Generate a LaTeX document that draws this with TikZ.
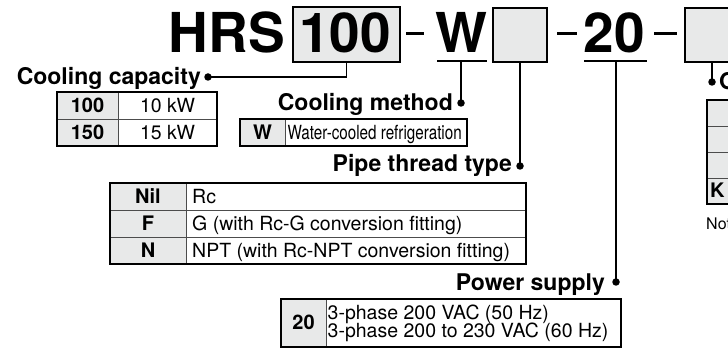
\documentclass[tikz,border=0pt]{standalone}
\usepackage{fontspec}
\setmainfont{TeX Gyre Heros}
\definecolor{cellgray}{RGB}{232,233,233}
\begin{document}
\begin{tikzpicture}[x=1pt,y=-1pt,
  big/.style={font=\fontsize{55}{60}\selectfont\bfseries, inner sep=0pt, anchor=base},
  head/.style={font=\fontsize{23}{26}\selectfont\bfseries, inner sep=0pt, anchor=base east},
  cell/.style={font=\fontsize{19.5}{18}\selectfont, inner sep=0pt, text height=14pt, text depth=0pt},
  bcell/.style={cell, font=\fontsize{20}{18}\selectfont\bfseries},
  codebox/.style={draw, line width=2pt, fill=cellgray, inner sep=0pt},
  conn/.style={line width=1.5pt},
  seldot/.style={circle, fill=black, inner sep=0pt, minimum size=7.5pt},
  outer/.style={draw=black, line width=1.3pt},
  innerline/.style={draw=black!70, line width=0.9pt},
  dashline/.style={line width=3pt},
  uline/.style={line width=2pt}]
\clip (0,0) rectangle (728,352);
\fill[white] (0,0) rectangle (728,352);

% ---- top row: model code ----
\node[big] (hrs) at (227,53) {HRS};
\node[codebox, minimum width=107pt, minimum height=55pt] (b1) at (346.5,34.5) {};
\node[big] (t100) at (345,53) {100};
\draw[dashline] (406,33.5) -- (424,33.5);
\node[big] (tw) at (461.5,53) {W};
\coordinate (wl) at (437,61); \coordinate (wr) at (487,61); \coordinate (wm) at (461,61);
\draw[uline] (wl) -- (wr);
\node[codebox, minimum width=54pt, minimum height=54pt] (b2) at (520,35) {};
\draw[dashline] (557,33.5) -- (577,33.5);
\node[big] (t20) at (614,53) {20};
\coordinate (zl) at (584,61); \coordinate (zr) at (647,61); \coordinate (zm) at (616,61);
\draw[uline] (zl) -- (zr);
\draw[dashline] (654,33.5) -- (677,33.5);
\node[codebox, minimum width=54pt, minimum height=54pt] (b3) at (712,35) {};

% ---- dots ----
\node[seldot] (dcap) at (208,77) {};
\node[seldot] (dmeth) at (461,103) {};
\node[seldot] (dpipe) at (520,166) {};
\node[seldot] (dpow) at (616,282) {};
\node[seldot] (dopt) at (712,82) {};

% ---- connectors ----
\draw[conn] (b1.south) |- (dcap.center);
\draw[conn] (wm) -- (dmeth.center);
\draw[conn] (b2.south) -- (dpipe.center);
\draw[conn] (zm) -- (dpow.center);
\draw[conn] (b3.south) -- (dopt.center);

% ---- headings ----
\node[head] (hcap) at (201,85) {Cooling capacity};
\node[head] (hmeth) at (453,111) {Cooling method};
\node[head] (hpipe) at (512,172) {Pipe thread type};
\node[head] (hpow) at (605,291) {Power supply};
\node[head, anchor=base west] (hopt) at (719,90) {Option};

% ---- table: cooling capacity ----
\fill[cellgray] (57,92) rectangle (118,146);
\draw[innerline] (118,92) -- (118,146);
\draw[innerline] (57,119) -- (217,119);
\draw[outer] (57,92) rectangle (217,146);
\node[bcell] (c100) at (87.5,105.5) {100};
\node[cell] (c10) at (167.5,105.5) {10 kW};
\node[bcell] (c150) at (87.5,132.5) {150};
\node[cell] (c15) at (167.5,132.5) {15 kW};

% ---- table: cooling method ----
\fill[cellgray] (240,119) rectangle (285,146);
\draw[innerline] (285,119) -- (285,146);
\draw[outer] (240,119) rectangle (467,146);
\node[bcell] (mw) at (262.5,132.5) {W};
\node[cell, anchor=west] (mwt) at (287.5,132.5) {\scalebox{0.78}[1]{Water-cooled refrigeration}};

% ---- table: pipe thread type ----
\fill[cellgray] (110,183) rectangle (186,264);
\draw[innerline] (186,183) -- (186,264);
\draw[innerline] (110,210) -- (526,210);
\draw[innerline] (110,237) -- (526,237);
\draw[outer] (110,183) rectangle (526,264);
\node[bcell] (pnil) at (148,196.5) {Nil};
\node[cell, anchor=west] (prc) at (192,196.5) {Rc};
\node[bcell] (pf) at (148,223.5) {F};
\node[cell, anchor=west] (pg) at (192,223.5) {G (with Rc-G conversion fitting)};
\node[bcell] (pn) at (148,250.5) {N};
\node[cell, anchor=west] (pnpt) at (192,250.5) {NPT (with Rc-NPT conversion fitting)};

% ---- table: power supply ----
\fill[cellgray] (281,299) rectangle (326,347);
\draw[innerline] (326,299) -- (326,347);
\draw[outer] (281,299) rectangle (621,347);
\node[bcell] (s20) at (303.5,323) {20};
\node[cell, anchor=base west] (s1) at (327.5,320) {3-phase 200 VAC (50 Hz)};
\node[cell, anchor=base west] (s2) at (327.5,338) {3-phase 200 to 230 VAC (60 Hz)};

% ---- table: option (cut at right edge) ----
\fill[cellgray] (707,100) rectangle (760,204);
\draw[innerline] (707,126) -- (760,126);
\draw[innerline] (707,152) -- (760,152);
\draw[innerline] (707,178) -- (760,178);
\draw[outer] (707,100) rectangle (760,204);
\node[bcell, anchor=west] (ok) at (710,191) {K};
\node[font=\fontsize{16}{18}\selectfont, inner sep=0pt, anchor=base west] (note) at (706,230) {Note)};
\end{tikzpicture}
\end{document}
